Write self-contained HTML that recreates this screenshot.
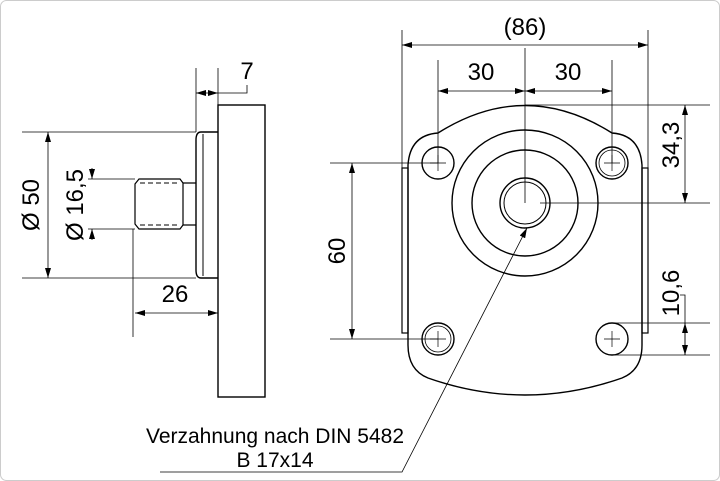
<!DOCTYPE html>
<html><head><meta charset="utf-8"><style>
html,body{margin:0;padding:0;background:#fff}
svg{display:block}
text{font-family:"Liberation Sans",Arial,sans-serif;fill:#000}
</style></head><body>
<svg width="720" height="481" viewBox="0 0 720 481" xmlns="http://www.w3.org/2000/svg">
<defs>
<marker id="a" viewBox="0 0 10 6" refX="10" refY="3" markerWidth="10" markerHeight="6" markerUnits="userSpaceOnUse" orient="auto-start-reverse"><path d="M0,0 L10,3 L0,6 Z" fill="#000"/></marker>
</defs>
<rect x="0.5" y="0.5" width="719" height="480" rx="6" fill="#fff" stroke="#ccc"/>
<g stroke="#000" fill="none">
<rect x="218" y="105" width="47" height="292" stroke-width="1.4"/>
<path d="M218,132 L201,132 Q196,132 196,140 L196,270 Q196,278 201,278 L218,278" stroke-width="1.4"/>
<line x1="203" y1="134" x2="203" y2="276" stroke-width="1"/>
<path d="M196,183 L183,183 L183,225 L196,225" stroke-width="1.2"/>
<path d="M183,183 L180,179 L139,179 L135,184 L135,224 L139,229 L180,229 L183,225" stroke-width="1.2"/>
<line x1="140" y1="183" x2="178" y2="183" stroke-dasharray="5,3" stroke-width="1"/>
<line x1="140" y1="225" x2="178" y2="225" stroke-dasharray="5,3" stroke-width="1"/>
<g stroke-width="0.8">
<line x1="22" y1="132" x2="196" y2="132"/>
<line x1="22" y1="278" x2="196" y2="278"/>
<line x1="48" y1="132" x2="48" y2="278" marker-start="url(#a)" marker-end="url(#a)"/>
<line x1="88" y1="179" x2="135" y2="179"/>
<line x1="88" y1="229" x2="135" y2="229"/>
<line x1="92" y1="168" x2="92" y2="179" marker-end="url(#a)"/>
<line x1="92" y1="240" x2="92" y2="229" marker-end="url(#a)"/>
<line x1="133" y1="229" x2="133" y2="337"/>
<line x1="135" y1="313" x2="218" y2="313" marker-start="url(#a)" marker-end="url(#a)"/>
<line x1="196" y1="68" x2="196" y2="132"/>
<line x1="218" y1="68" x2="218" y2="105"/>
<line x1="207" y1="93" x2="196" y2="93" marker-end="url(#a)"/>
<line x1="207" y1="93" x2="218" y2="93" marker-end="url(#a)"/>
<polyline points="218,93 247,93 247,85"/>
</g>
<path d="M438,133 Q525,78 612,133 Q640,135 642,165 L642,345 Q642,370 622,378 Q525,412 428,378 Q408,370 408,345 L408,165 Q410,135 438,133 Z" stroke-width="1.4"/>
<rect x="402" y="168" width="6" height="165" stroke-width="1.2"/>
<rect x="642" y="168" width="6" height="165" stroke-width="1.2"/>
<circle cx="525" cy="203" r="73" stroke-width="1.4"/>
<circle cx="525" cy="203" r="53" stroke-width="1.4"/>
<circle cx="525" cy="203" r="25" stroke-width="1.4"/>
<circle cx="525" cy="203" r="21" stroke-width="1"/>
<circle cx="438" cy="163" r="16" stroke-width="1.4"/>
<circle cx="612" cy="163" r="16" stroke-width="1.4"/>
<circle cx="612" cy="163" r="13" stroke-width="0.8"/>
<circle cx="438" cy="339" r="16" stroke-width="1.4"/>
<circle cx="438" cy="339" r="13" stroke-width="0.8"/>
<circle cx="612" cy="339" r="16" stroke-width="1.4"/>
<g stroke-width="0.7">
<path d="M430,163 H446 M438,155 V171 M604,163 H620 M612,155 V171 M430,339 H446 M438,331 V347 M604,339 H620 M612,331 V347"/>
</g>
<g stroke-width="0.8">
<line x1="525" y1="48" x2="525" y2="203"/>
<line x1="438" y1="60" x2="438" y2="163"/>
<line x1="612" y1="60" x2="612" y2="163"/>
<line x1="438" y1="91" x2="525" y2="91" marker-start="url(#a)" marker-end="url(#a)"/>
<line x1="525" y1="91" x2="612" y2="91" marker-start="url(#a)" marker-end="url(#a)"/>
<line x1="402" y1="30" x2="402" y2="168"/>
<line x1="648" y1="30" x2="648" y2="168"/>
<line x1="402" y1="45" x2="648" y2="45" marker-start="url(#a)" marker-end="url(#a)"/>
<line x1="525" y1="105" x2="710" y2="105"/>
<line x1="540" y1="203" x2="710" y2="203"/>
<line x1="685" y1="105" x2="685" y2="203" marker-start="url(#a)" marker-end="url(#a)"/>
<line x1="612" y1="323" x2="710" y2="323"/>
<line x1="612" y1="355" x2="710" y2="355"/>
<polyline points="680,295 685,295 685,355"/>
<line x1="685" y1="339" x2="685" y2="323" marker-end="url(#a)"/>
<line x1="685" y1="339" x2="685" y2="355" marker-end="url(#a)"/>
<line x1="330" y1="163" x2="438" y2="163"/>
<line x1="330" y1="339" x2="438" y2="339"/>
<line x1="352" y1="163" x2="352" y2="339" marker-start="url(#a)" marker-end="url(#a)"/>
<polyline points="160,472 402,472 527,228" marker-end="url(#a)"/>
</g>
</g>
<g font-size="24">
<text x="247" y="79" text-anchor="middle">7</text>
<text x="175" y="302" text-anchor="middle">26</text>
<text transform="translate(39,205) rotate(-90)" text-anchor="middle">Ø 50</text>
<text transform="translate(83,205) rotate(-90)" text-anchor="middle">Ø 16,5</text>
<text x="525" y="35" text-anchor="middle">(86)</text>
<text x="481" y="80" text-anchor="middle">30</text>
<text x="568" y="80" text-anchor="middle">30</text>
<text transform="translate(679,145) rotate(-90)" text-anchor="middle">34,3</text>
<text transform="translate(679,293) rotate(-90)" text-anchor="middle">10,6</text>
<text transform="translate(345,251) rotate(-90)" text-anchor="middle">60</text>
</g>
<g font-size="21">
<text x="275" y="443" text-anchor="middle">Verzahnung nach DIN 5482</text>
<text x="275" y="467" text-anchor="middle">B 17x14</text>
</g>
</svg>
</body></html>
